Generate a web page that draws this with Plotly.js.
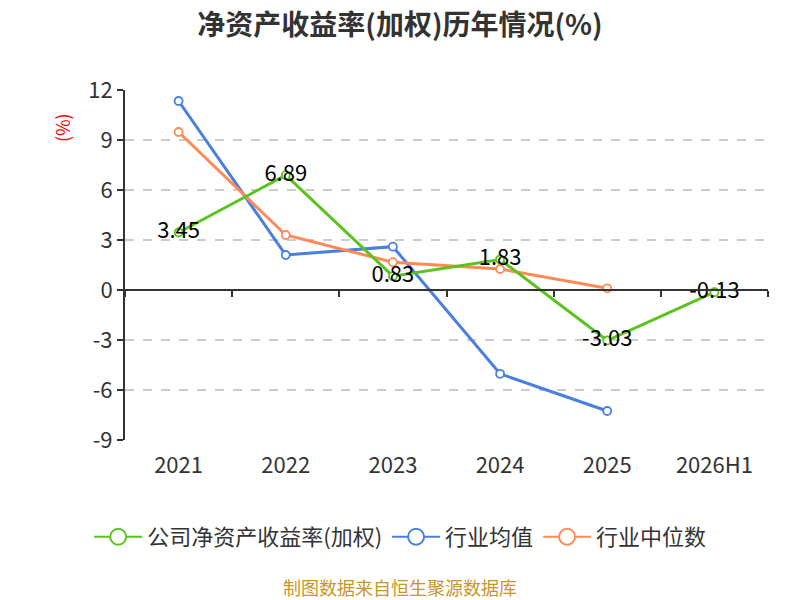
<!DOCTYPE html>
<html>
<head>
<meta charset="utf-8">
<script src="https://cdn.plot.ly/plotly-3.0.1.min.js"></script>
<style>body{margin:0}#chart{width:800px;height:600px}</style>
</head>
<body>
<div id="chart"></div>
<script>
var years = ['2021', '2022', '2023', '2024', '2025', '2026H1'];

var company = [3.45, 6.89, 0.83, 1.83, -3.03, -0.13];
var industryMean = [11.34, 2.1, 2.6, -5.03, -7.26];
var industryMedian = [9.48, 3.3, 1.67, 1.26, 0.1];

var seriesNames = ['公司净资产收益率(加权)', '行业均值', '行业中位数'];
var colours = ['#5bc31f', '#4a7fe0', '#ff8a55'];

var yTicks = [-9, -6, -3, 0, 3, 6, 9, 12];

var fontFamily = '"Noto Sans CJK SC", "Noto Sans", sans-serif';

function series(i, xs, ys, extra) {
  var t = {
    x: xs,
    y: ys,
    name: seriesNames[i],
    legendgroup: 'g' + i,
    showlegend: false,
    type: 'scatter',
    mode: 'lines+markers',
    line: {color: colours[i], width: 3},
    marker: {symbol: 'circle', size: 8, color: '#ffffff', line: {color: colours[i], width: 1.8}},
    hoverinfo: 'x+y'
  };
  for (var k in extra) t[k] = extra[k];
  return t;
}

// legend entries only (bigger symbols than the plotted markers)
function legendEntry(i) {
  return {
    x: [null], y: [null],
    name: seriesNames[i],
    legendgroup: 'g' + i,
    type: 'scatter',
    mode: 'lines+markers',
    line: {color: colours[i], width: 2},
    marker: {symbol: 'circle', size: 16, color: '#ffffff', line: {color: colours[i], width: 2}},
    hoverinfo: 'skip'
  };
}

var trace1 = series(0, years, company, {
  mode: 'lines+markers+text',
  text: company.map(function(v) { return v.toFixed(2); }),
  textposition: 'middle center',
  textfont: {family: fontFamily, size: 22, color: '#000000'},
  xaxis: 'x2'
});
var trace2 = series(1, years.slice(0, 5), industryMean);
var trace3 = series(2, years.slice(0, 5), industryMedian);

var layout = {
  width: 800,
  height: 600,
  margin: {l: 125, r: 32, t: 90, b: 160},
  paper_bgcolor: '#ffffff',
  plot_bgcolor: '#ffffff',
  font: {family: fontFamily, color: '#333333'},
  title: {
    text: '<b>净资产收益率(加权)历年情况(%)</b>',
    font: {size: 28, color: '#333333', family: fontFamily},
    x: 0.5, xanchor: 'center',
    y: 0.958, yanchor: 'middle'
  },
  xaxis: {
    type: 'category',
    categoryarray: years,
    range: [-0.5, 5.5],
    showline: false,
    showgrid: false,
    zeroline: false,
    ticks: '',
    ticklabelstandoff: 10,
    tickfont: {size: 22, color: '#333333'}
  },
  xaxis2: {
    type: 'category',
    categoryarray: years,
    range: [-0.5, 5.5],
    overlaying: 'x',
    anchor: 'free',
    position: 9 / 21,
    showline: true,
    linecolor: '#333333',
    linewidth: 2,
    showgrid: false,
    zeroline: false,
    ticks: 'outside',
    tickson: 'boundaries',
    ticklen: 6,
    tickwidth: 2,
    tickcolor: '#333333',
    showticklabels: false
  },
  yaxis: {
    range: [-9, 12],
    tickvals: yTicks,
    ticktext: yTicks.map(String),
    showline: true,
    linecolor: '#333333',
    linewidth: 2,
    ticks: 'outside',
    ticklen: 6,
    tickwidth: 2,
    tickcolor: '#333333',
    showgrid: true,
    gridcolor: '#cccccc',
    griddash: 'dash',
    gridwidth: 1.5,
    zeroline: false,
    tickfont: {size: 22, color: '#333333'}
  },
  legend: {
    orientation: 'h',
    x: 0.428, xanchor: 'center',
    y: -0.277, yanchor: 'middle',
    font: {size: 22, color: '#333333', family: fontFamily},
    itemwidth: 48
  },
  annotations: [
    {
      text: '(%)', textangle: -90,
      xref: 'paper', yref: 'paper',
      x: -0.098, y: 0.894, xanchor: 'center', yanchor: 'middle',
      showarrow: false,
      font: {size: 18, color: '#ff0000', family: fontFamily}
    },
    {
      text: '制图数据来自恒生聚源数据库',
      xref: 'paper', yref: 'paper',
      x: 0.428, y: -0.42, xanchor: 'center', yanchor: 'middle',
      showarrow: false,
      font: {size: 18, color: '#c8962a', family: fontFamily}
    }
  ],
  showlegend: true
};

var data = [trace1, trace2, trace3, legendEntry(0), legendEntry(1), legendEntry(2)];

Plotly.newPlot('chart', data, layout, {displayModeBar: false});
</script>
</body>
</html>
